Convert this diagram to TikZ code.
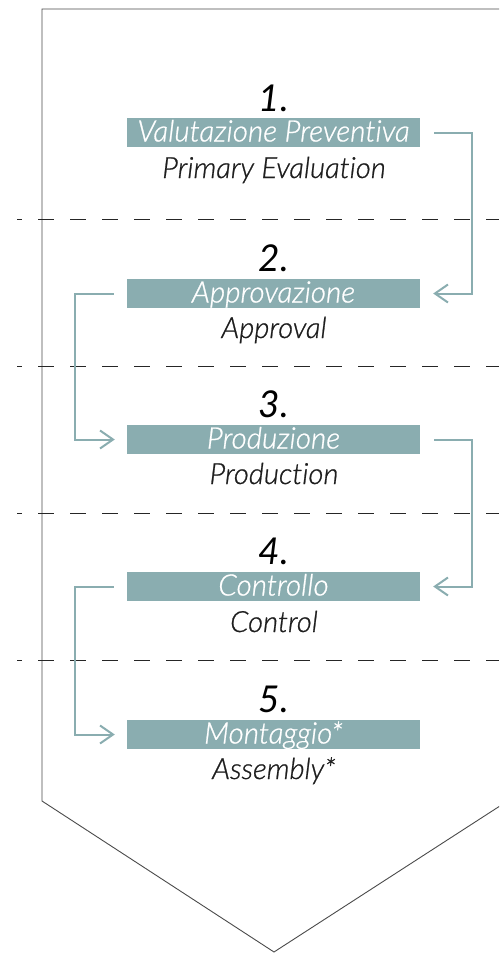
\documentclass[tikz,border=0pt]{standalone}
\usepackage{fontspec}
\setmainfont{Lato}[Ligatures=NoCommon, UprightFont=* Light, ItalicFont=* Light Italic, ItalicFeatures={FakeBold=0.8}]
\newfontfamily\numfont{Lato}[Ligatures=NoCommon]
\usetikzlibrary{arrows.meta}
\definecolor{teal1}{HTML}{8AADB0}
\definecolor{outl}{HTML}{4A4A4A}
\definecolor{txt}{HTML}{1E1E1E}
\tikzset{
  bar/.style={rectangle, fill=teal1, minimum width=293pt, minimum height=29pt,
    inner sep=0pt, text height=23.5pt, text depth=5.5pt, text=white,
    font=\fontsize{29.6}{32}\selectfont\itshape},
  num/.style={anchor=base, inner sep=0pt, text=black, font=\numfont\fontsize{37}{40}\selectfont\itshape},
  eng/.style={anchor=base, inner sep=0pt, text=txt, font=\fontsize{29.2}{32}\selectfont\itshape},
  sep/.style={draw=black!85, line width=1pt, dash pattern=on 16pt off 16pt, dash phase=11pt},
  conn/.style={draw=teal1, line width=2pt, -{Straight Barb[length=13pt,width=18pt]}},
}
\begin{document}
\begin{tikzpicture}[x=1pt,y=-1pt]
\useasboundingbox (0,0) rectangle (499,954);
\clip (0,0) rectangle (499,954);
% outline
\draw[outl, line width=0.9pt] (520,9) -- (42,9) -- (42,801) -- (274,952) -- (520,793);
% separators
\foreach \yy/\nm in {219/s1,366/s2,513/s3,660/s4}{
  \coordinate (\nm a) at (17,\yy);
  \coordinate (\nm b) at (499,\yy);
  \draw[sep] (\nm a) -- (\nm b);
}
% steps
\node[bar] (b1) at (273.5,132.5) {Valutazione Preventiva};
\node[bar] (b2) at (273.5,293.5) {Approvazione};
\node[bar] (b3) at (273.5,439.5) {Produzione};
\node[bar] (b4) at (273.5,586.5) {Controllo};
\node[bar] (b5) at (273.5,734.5) {Montaggio*};
\node[num] (n1) at (274,111) {1.};
\node[num] (n2) at (274,271) {2.};
\node[num] (n3) at (274,417) {3.};
\node[num] (n4) at (274,564) {4.};
\node[num] (n5) at (274,712) {5.};
\node[eng] (e1) at (274,178) {Primary Evaluation};
\node[eng] (e2) at (274,338) {Approval};
\node[eng] (e3) at (274,484) {Production};
\node[eng] (e4) at (274,632) {Control};
\node[eng] (e5) at (274,779) {Assembly*};
% connectors
\draw[conn] ([xshift=14pt]b1.east) -- ++(38,0) |- ([xshift=13pt]b2.east);
\draw[conn] ([xshift=-13pt]b2.west) -- ++(-39,0) |- ([xshift=-12pt]b3.west);
\draw[conn] ([xshift=14pt]b3.east) -- ++(38,0) |- ([xshift=13pt]b4.east);
\draw[conn] ([xshift=-13pt]b4.west) -- ++(-39,0) |- ([xshift=-12pt]b5.west);
\end{tikzpicture}
\end{document}
